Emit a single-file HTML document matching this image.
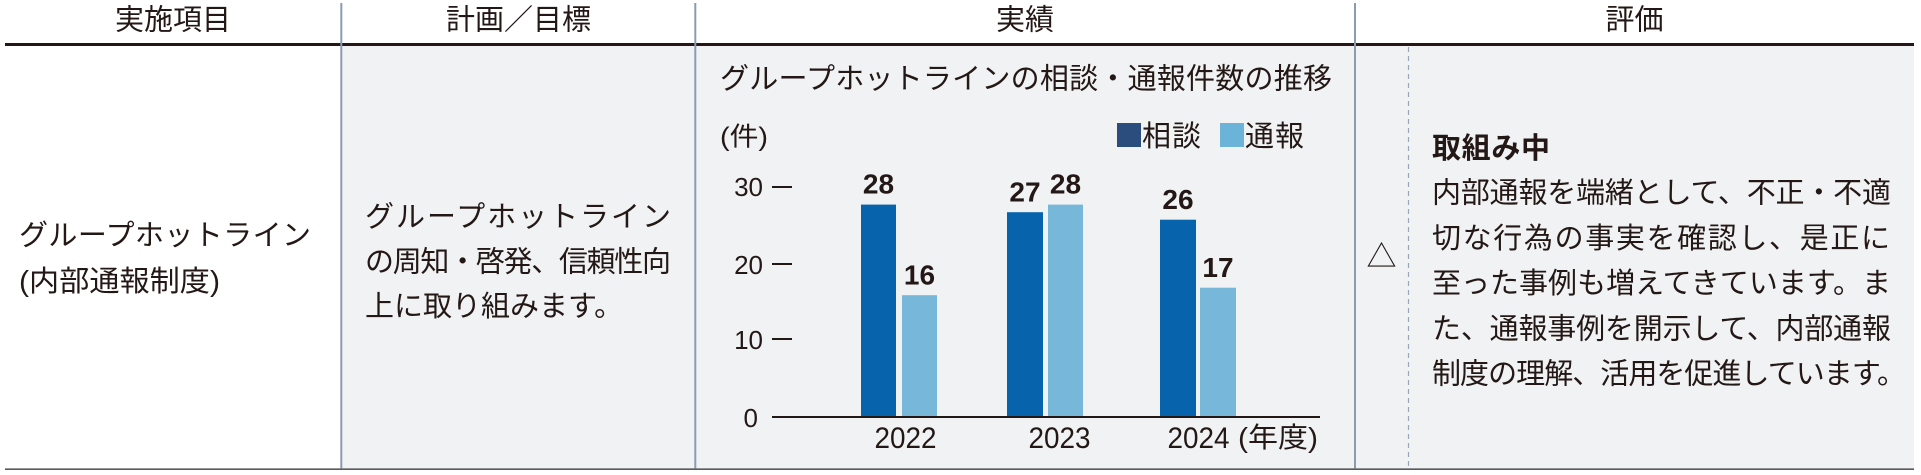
<!DOCTYPE html>
<html lang="ja">
<head>
<meta charset="utf-8">
<style>
  html,body{margin:0;padding:0;background:#fff;}
  svg{display:block;}
  .jp{font-family:"Liberation Sans","Noto Sans CJK JP",sans-serif;fill:#231815;}
  .num{font-family:"Liberation Sans",sans-serif;fill:#231815;}
</style>
</head>
<body>
<svg width="1921" height="475" viewBox="0 0 1921 475" xmlns="http://www.w3.org/2000/svg">
  <!-- backgrounds -->
  <rect x="0" y="0" width="1921" height="475" fill="#ffffff"/>
  <rect x="341" y="45" width="1573" height="424" fill="#f1f2f4"/>

  <!-- header line -->
  <line x1="5" y1="44.5" x2="1914" y2="44.5" stroke="#231815" stroke-width="3"/>
  <!-- bottom line -->
  <line x1="5" y1="469.2" x2="1914" y2="469.2" stroke="#5a5a5a" stroke-width="1.6"/>

  <!-- vertical dividers -->
  <line x1="341.3" y1="3" x2="341.3" y2="468.5" stroke="#8b9bb0" stroke-width="2"/>
  <line x1="695.3" y1="3" x2="695.3" y2="468.5" stroke="#8b9bb0" stroke-width="2"/>
  <line x1="1355" y1="3" x2="1355" y2="468.5" stroke="#8b9bb0" stroke-width="2"/>
  <line x1="1408.5" y1="47" x2="1408.5" y2="468" stroke="#9aa6b6" stroke-width="1.2" stroke-dasharray="5,4"/>

  <!-- header texts -->
  <text class="jp" x="173" y="29.5" font-size="29" text-anchor="middle">実施項目</text>
  <text class="jp" x="518.5" y="29.5" font-size="29" text-anchor="middle">計画／目標</text>
  <text class="jp" x="1025" y="29.5" font-size="29" text-anchor="middle">実績</text>
  <text class="jp" x="1634.5" y="29.5" font-size="29" text-anchor="middle">評価</text>

  <!-- column 1 -->
  <text class="jp" x="19" y="245" font-size="29" textLength="292" lengthAdjust="spacing">グループホットライン</text>
  <text class="jp" x="19" y="291" font-size="29" textLength="201" lengthAdjust="spacingAndGlyphs">(内部通報制度)</text>

  <!-- column 2 -->
  <text class="jp" x="365" y="226.5" font-size="29" textLength="306" lengthAdjust="spacing">グループホットライン</text>
  <text class="jp" x="365" y="271.5" font-size="29" textLength="306" lengthAdjust="spacing">の周知・啓発、信頼性向</text>
  <text class="jp" x="365" y="316" font-size="29">上に取り組みます。</text>

  <!-- chart -->
  <text class="jp" x="720" y="88.5" font-size="29" textLength="612" lengthAdjust="spacing">グループホットラインの相談・通報件数の推移</text>
  <text class="jp" x="720" y="145.5" font-size="26" textLength="48" lengthAdjust="spacingAndGlyphs">(件)</text>

  <!-- legend -->
  <rect x="1117" y="123" width="24" height="24" fill="#2a4d7d"/>
  <text class="jp" x="1142" y="146" font-size="29" textLength="59" lengthAdjust="spacing">相談</text>
  <rect x="1220" y="123" width="24" height="24" fill="#6cb3d9"/>
  <text class="jp" x="1245" y="146" font-size="29" textLength="59" lengthAdjust="spacing">通報</text>

  <!-- y ticks -->
  <text class="num" x="763" y="196" font-size="26" text-anchor="end">30</text>
  <text class="num" x="763" y="274" font-size="26" text-anchor="end">20</text>
  <text class="num" x="763" y="349" font-size="26" text-anchor="end">10</text>
  <text class="num" x="758" y="427" font-size="26" text-anchor="end">0</text>
  <line x1="772" y1="187" x2="792" y2="187" stroke="#231815" stroke-width="2"/>
  <line x1="772" y1="264" x2="792" y2="264" stroke="#231815" stroke-width="2"/>
  <line x1="772" y1="339" x2="792" y2="339" stroke="#231815" stroke-width="2"/>

  <!-- bars -->
  <rect x="861" y="204.6" width="35" height="211.4" fill="#0763ab"/>
  <rect x="902" y="295.2" width="35" height="120.8" fill="#76b7da"/>
  <rect x="1007" y="212.2" width="36" height="203.8" fill="#0763ab"/>
  <rect x="1048" y="204.6" width="35" height="211.4" fill="#76b7da"/>
  <rect x="1160" y="219.7" width="36" height="196.3" fill="#0763ab"/>
  <rect x="1200" y="287.7" width="36" height="128.3" fill="#76b7da"/>

  <!-- axis -->
  <line x1="772" y1="417" x2="1320" y2="417" stroke="#231815" stroke-width="2"/>

  <!-- value labels -->
  <text class="num" x="878.5" y="193.6" font-size="28" font-weight="bold" text-anchor="middle">28</text>
  <text class="num" x="919.5" y="284.5" font-size="28" font-weight="bold" text-anchor="middle">16</text>
  <text class="num" x="1025" y="201.5" font-size="28" font-weight="bold" text-anchor="middle">27</text>
  <text class="num" x="1065.5" y="193.6" font-size="28" font-weight="bold" text-anchor="middle">28</text>
  <text class="num" x="1178" y="209" font-size="28" font-weight="bold" text-anchor="middle">26</text>
  <text class="num" x="1218" y="277" font-size="28" font-weight="bold" text-anchor="middle">17</text>

  <!-- x labels -->
  <text class="num" x="874.5" y="448" font-size="30" textLength="62" lengthAdjust="spacingAndGlyphs">2022</text>
  <text class="num" x="1028.5" y="448" font-size="30" textLength="62" lengthAdjust="spacingAndGlyphs">2023</text>
  <text class="num" x="1167.5" y="448" font-size="30" textLength="62" lengthAdjust="spacingAndGlyphs">2024</text>
  <text class="jp" x="1238" y="447" font-size="28" textLength="80" lengthAdjust="spacingAndGlyphs">(年度)</text>

  <!-- column 4 -->
  <text class="jp" x="1381.5" y="267" font-size="30" text-anchor="middle">△</text>
  <text class="jp" x="1432" y="158" font-size="29" font-weight="bold" textLength="118" lengthAdjust="spacing">取組み中</text>
  <text class="jp" x="1432" y="202.5" font-size="29" textLength="459" lengthAdjust="spacing">内部通報を端緒として、不正・不適</text>
  <text class="jp" x="1432" y="247.8" font-size="29" textLength="458" lengthAdjust="spacing">切な行為の事実を確認し、是正に</text>
  <text class="jp" x="1432" y="293" font-size="29" textLength="459" lengthAdjust="spacing">至った事例も増えてきています。ま</text>
  <text class="jp" x="1432" y="338.4" font-size="29" textLength="459" lengthAdjust="spacing">た、通報事例を開示して、内部通報</text>
  <text class="jp" x="1432" y="383.7" font-size="29" textLength="474" lengthAdjust="spacing">制度の理解、活用を促進しています。</text>
</svg>
</body>
</html>
